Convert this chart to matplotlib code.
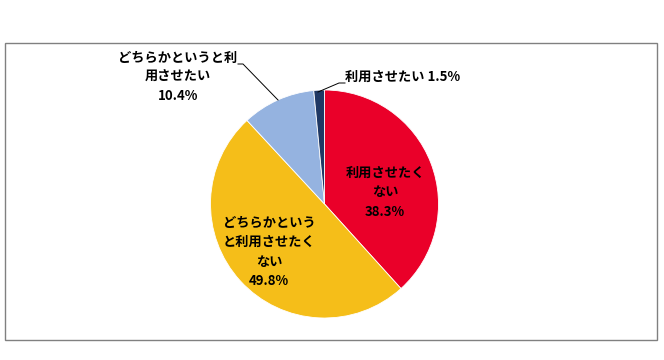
import matplotlib
matplotlib.use('Agg')
import matplotlib.pyplot as plt
from matplotlib.patches import Rectangle

plt.rcParams['font.family'] = ['Noto Sans CJK JP', 'DejaVu Sans']

# データ（12時から時計回り）
labels = ['利用させたくない', 'どちらかというと利用させたくない', 'どちらかというと利用させたい', '利用させたい']
values = [38.3, 49.8, 10.4, 1.5]
colors = ['#EA0029', '#F5BE19', '#95B3E0', '#1F3864']
label_texts = ['利用させたく\nない', 'どちらかという\nと利用させたく\nない', 'どちらかというと利\n用させたい', '利用させたい']

W, H = 664, 360
fig = plt.figure(figsize=(W / 100, H / 100), dpi=100)
ax = fig.add_axes([0, 0, 1, 1])

# 外枠
ax.add_patch(Rectangle((5, 20), 652, 297, fill=False, edgecolor='#808080', lw=1))

cx, cy, r = 324.5, 360 - 204, 114
ax.pie(values, colors=colors, startangle=90, counterclock=False,
       center=(cx, cy), radius=r, frame=True,
       wedgeprops=dict(edgecolor='white', linewidth=0.6))
ax.set_xlim(0, W)
ax.set_ylim(0, H)
ax.set_aspect('equal')
ax.axis('off')

fs = 9.5
# 内側ラベル
ax.text(385, 360 - 192, label_texts[0] + '\n%.1f%%' % values[0], ha='center', va='center',
        fontsize=fs, fontweight='bold', linespacing=1.5)
ax.text(269, 360 - 252, label_texts[1] + '\n%.1f%%' % values[1], ha='center', va='center',
        fontsize=fs, fontweight='bold', linespacing=1.5)

# 外側ラベル
ax.text(178, 360 - 77, label_texts[2] + '\n%.1f%%' % values[2], ha='center', va='center',
        fontsize=fs, fontweight='bold', linespacing=1.5)
ax.plot([238, 243, 278], [360 - 64, 360 - 64, 360 - 100], color='black', lw=0.7)

ax.text(345, 360 - 77, label_texts[3] + ' %.1f%%' % values[3], ha='left', va='center',
        fontsize=fs, fontweight='bold')
ax.plot([345, 339, 318], [360 - 83, 360 - 83, 360 - 92], color='black', lw=0.7)

fig.savefig('out.png', dpi=100)
